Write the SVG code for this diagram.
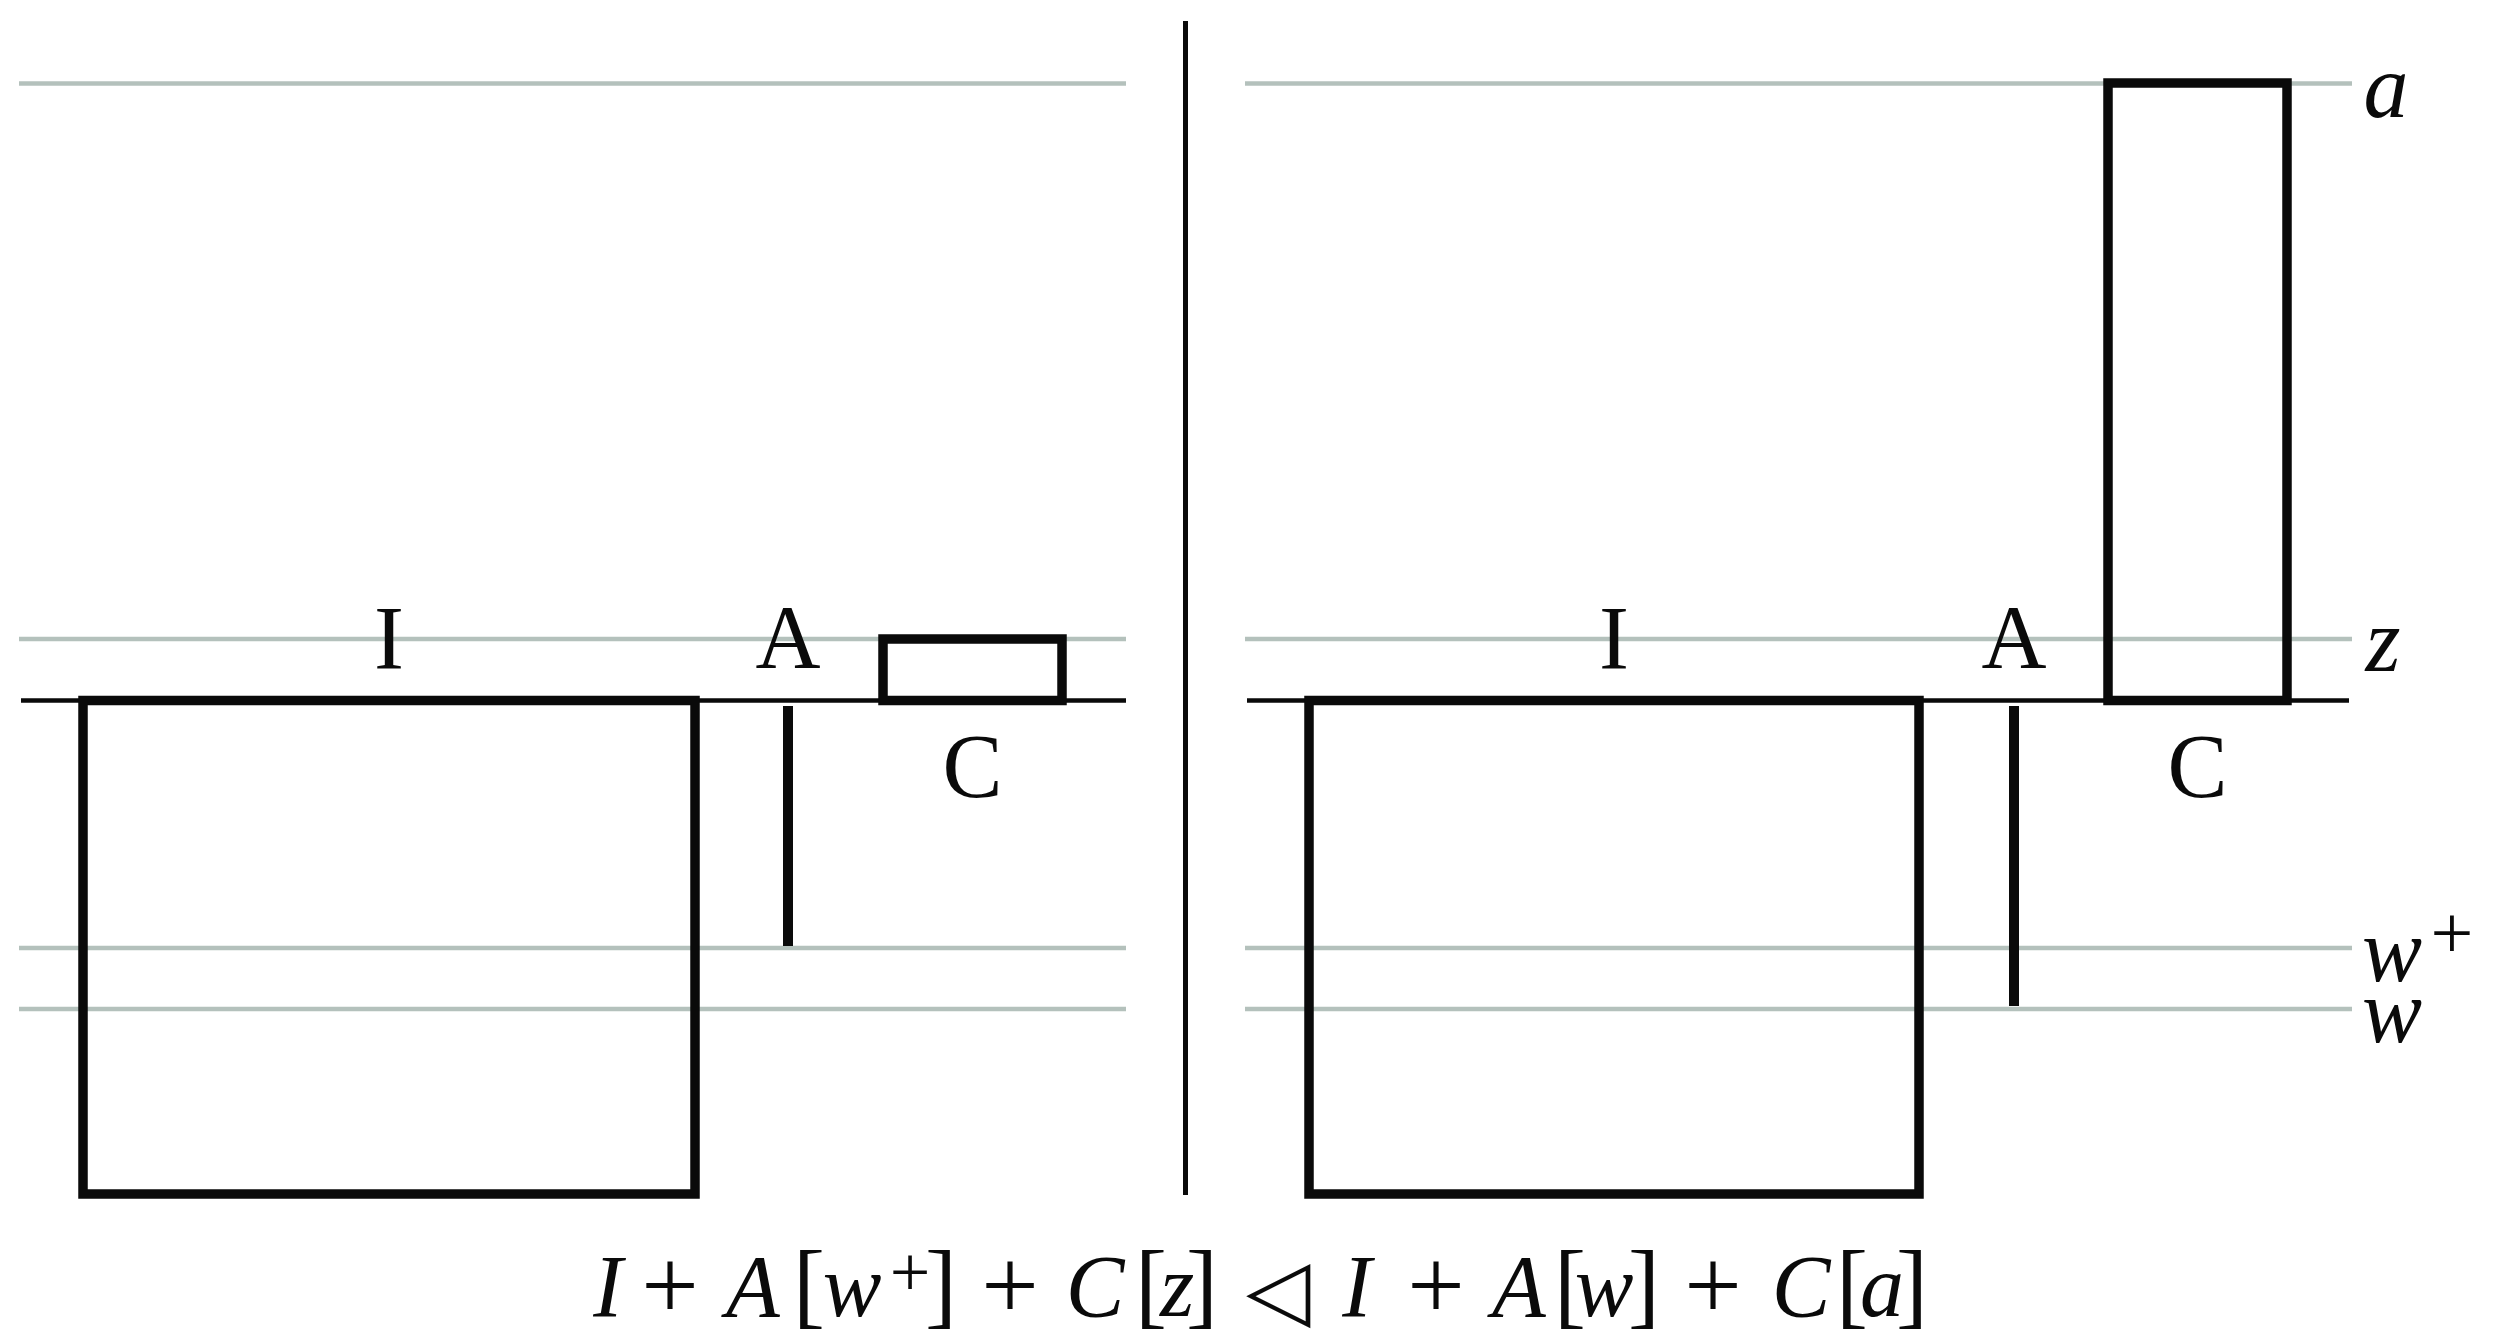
<svg xmlns="http://www.w3.org/2000/svg" width="2502" height="1341" viewBox="0 0 2502 1341">
<style>
.g{stroke:#b4c1bc;stroke-width:4.5;fill:none}
.k{stroke:#0a0a0a;stroke-width:4.5;fill:none}
.box{stroke:#0a0a0a;stroke-width:9.5;fill:none}
.bar{stroke:#0a0a0a;stroke-width:10;fill:none}
.lbl{font-family:"Liberation Serif","Times New Roman",serif;font-size:90px;fill:#0a0a0a;text-anchor:middle}
.it{font-family:"Liberation Serif","Times New Roman",serif;font-style:italic;font-size:90px;fill:#0a0a0a;text-anchor:middle}
.f{font-family:"Liberation Serif","Times New Roman",serif;font-size:88px;fill:#0a0a0a;text-anchor:middle}
.fi{font-style:italic}
.br{font-size:96px}
.pl{font-size:102px}
</style>
<rect width="2502" height="1341" fill="#ffffff"/>
<g id="connectors">
<line class="g" x1="19" y1="83.5" x2="1126" y2="83.5"/>
<line class="g" x1="19" y1="639" x2="1126" y2="639"/>
<line class="g" x1="19" y1="948" x2="1126" y2="948"/>
<line class="g" x1="19" y1="1009" x2="1126" y2="1009"/>
<line class="k" x1="21" y1="700.5" x2="1126" y2="700.5"/>
<line class="g" x1="1245" y1="83.5" x2="2352" y2="83.5"/>
<line class="g" x1="1245" y1="639" x2="2352" y2="639"/>
<line class="g" x1="1245" y1="948" x2="2352" y2="948"/>
<line class="g" x1="1245" y1="1009" x2="2352" y2="1009"/>
<line class="k" x1="1247" y1="700.5" x2="2349" y2="700.5"/>
<line id="divider" x1="1185.5" y1="21" x2="1185.5" y2="1195" stroke="#0a0a0a" stroke-width="5"/>
</g>
<g id="left-I">
<rect class="box" x="83" y="700.5" width="612" height="493.5"/>
<text class="lbl" x="389" y="669">I</text>
</g>
<g id="left-A">
<line class="bar" x1="788" y1="706" x2="788" y2="946"/>
<text class="lbl" x="788" y="668">A</text>
</g>
<g id="left-C">
<rect class="box" x="883" y="639" width="179" height="61.5"/>
<text class="lbl" x="972.5" y="797">C</text>
</g>
<g id="right-I">
<rect class="box" x="1309" y="700.5" width="610" height="493.5"/>
<text class="lbl" x="1614" y="669">I</text>
</g>
<g id="right-A">
<line class="bar" x1="2014" y1="706" x2="2014" y2="1006"/>
<text class="lbl" x="2014" y="668">A</text>
</g>
<g id="right-C">
<rect class="box" x="2108" y="83" width="179" height="617.5"/>
<text class="lbl" x="2197.5" y="797">C</text>
</g>
<g id="level-labels">
<text class="it" x="2386" y="117">a</text>
<text class="it" x="2383" y="671">z</text>
<text class="it" x="2392" y="981">w<tspan x="2452" y="958" style="font-style:normal;font-size:76px">+</tspan></text>
<text class="it" x="2392" y="1042">w</text>
</g>
<g id="formula">
<text class="f" y="1316"><tspan class="fi" x="608">I</tspan><tspan class="pl" x="670" y="1319">+</tspan><tspan class="fi" x="753" y="1316">A</tspan><tspan class="br" x="809">[</tspan><tspan class="fi" x="852">w</tspan><tspan x="910" y="1296" style="font-size:72px">+</tspan><tspan class="br" x="941" y="1316">]</tspan><tspan class="pl" x="1010" y="1319">+</tspan><tspan class="fi" x="1095" y="1316">C</tspan><tspan class="br" x="1151">[</tspan><tspan class="fi" x="1177">z</tspan><tspan class="br" x="1202">]</tspan><tspan x="1278" y="1318" style="font-family:'DejaVu Sans',sans-serif;font-size:84px">◁</tspan><tspan class="fi" x="1357" y="1316">I</tspan><tspan class="pl" x="1436" y="1319">+</tspan><tspan class="fi" x="1519" y="1316">A</tspan><tspan class="br" x="1570">[</tspan><tspan class="fi" x="1604">w</tspan><tspan class="br" x="1644">]</tspan><tspan class="pl" x="1713" y="1319">+</tspan><tspan class="fi" x="1801" y="1316">C</tspan><tspan class="br" x="1852">[</tspan><tspan class="fi" x="1882">a</tspan><tspan class="br" x="1912">]</tspan></text>
</g>
</svg>
